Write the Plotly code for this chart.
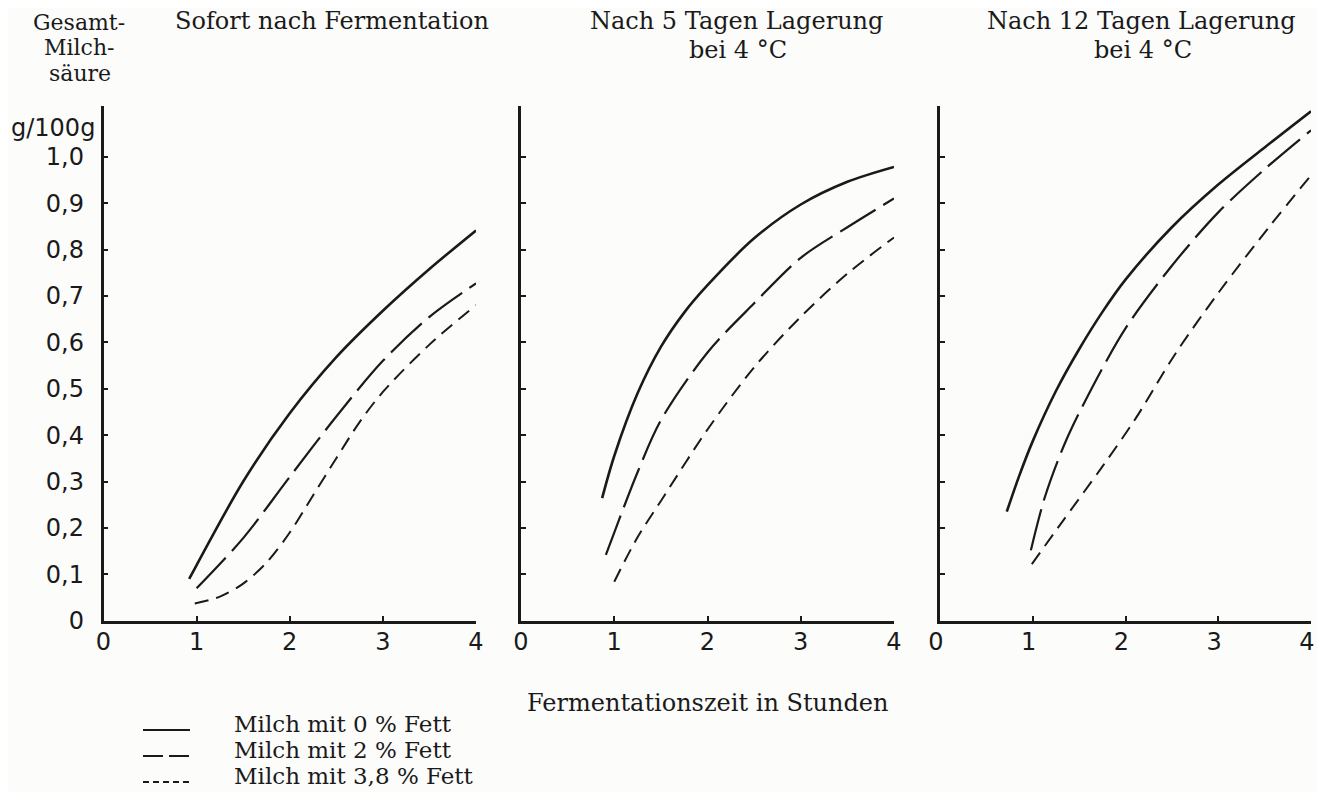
import plotly.graph_objects as go

# ---------------- data ----------------
series_names = ["Milch mit 0 % Fett", "Milch mit 2 % Fett", "Milch mit 3,8 % Fett"]

# Panel 1: sofort nach Fermentation
p1_fett0_x = [0.92, 1.0, 1.5, 2.0, 2.5, 3.0, 3.5, 4.0]
p1_fett0_y = [0.09, 0.12, 0.30, 0.447, 0.568, 0.668, 0.758, 0.841]
p1_fett2_x = [1.0, 1.5, 2.0, 2.5, 3.0, 3.5, 4.0]
p1_fett2_y = [0.07, 0.178, 0.31, 0.44, 0.56, 0.655, 0.727]
p1_fett38_x = [0.98, 1.25, 1.5, 1.75, 2.0, 2.25, 2.5, 2.75, 3.0, 3.5, 4.0]
p1_fett38_y = [0.037, 0.052, 0.08, 0.125, 0.19, 0.27, 0.35, 0.428, 0.493, 0.595, 0.68]

# Panel 2: nach 5 Tagen Lagerung bei 4 °C
p2_fett0_x = [0.87, 1.0, 1.25, 1.5, 1.75, 2.0, 2.5, 3.0, 3.5, 4.0]
p2_fett0_y = [0.264, 0.355, 0.49, 0.59, 0.664, 0.723, 0.824, 0.897, 0.946, 0.978]
p2_fett2_x = [0.91, 1.0, 1.25, 1.5, 2.0, 2.5, 3.0, 3.5, 4.0]
p2_fett2_y = [0.142, 0.19, 0.32, 0.432, 0.578, 0.684, 0.782, 0.848, 0.91]
p2_fett38_x = [1.0, 1.25, 1.5, 2.0, 2.5, 3.0, 3.5, 4.0]
p2_fett38_y = [0.084, 0.18, 0.258, 0.412, 0.546, 0.655, 0.748, 0.826]

# Panel 3: nach 12 Tagen Lagerung bei 4 °C
p3_fett0_x = [0.72, 0.85, 1.0, 1.25, 1.5, 1.75, 2.0, 2.5, 3.0, 3.5, 4.0]
p3_fett0_y = [0.235, 0.31, 0.387, 0.495, 0.585, 0.665, 0.735, 0.848, 0.94, 1.02, 1.098]
p3_fett2_x = [0.98, 1.13, 1.35, 1.6, 2.0, 2.5, 3.0, 3.5, 4.0]
p3_fett2_y = [0.152, 0.266, 0.384, 0.487, 0.63, 0.765, 0.88, 0.973, 1.057]
p3_fett38_x = [0.99, 1.31, 1.75, 2.11, 2.54, 3.01, 3.55, 4.0]
p3_fett38_y = [0.122, 0.211, 0.332, 0.436, 0.576, 0.709, 0.849, 0.96]

x_ticks = [0, 1, 2, 3, 4]
y_tickvals = [0, 0.1, 0.2, 0.3, 0.4, 0.5, 0.6, 0.7, 0.8, 0.9, 1.0]
y_ticktext = ["0", "0,1", "0,2", "0,3", "0,4", "0,5", "0,6", "0,7", "0,8", "0,9", "1,0"]

# ---------------- styling ----------------
OFF = 8                      # default body margin of the html page
W, H = 1325 - 2 * OFF, 800 - 2 * OFF
INK = "#1a1a1a"
BG = "#fcfcfa"
SERIF = "DejaVu Serif, Liberation Serif, serif"
SANS = "DejaVu Sans, Liberation Sans, Arial, sans-serif"
curve_styles = [dict(width=2.6, dash="solid"),
                dict(width=2.2, dash="42px,9px"),
                dict(width=2.0, dash="14px,8px")]
legend_dash = ["solid", "20px,6px", "6px,4px"]


def xp(px):
    return (px - OFF) / W


def yp(py):
    return 1 - (py - OFF) / H


panels = [
    [(p1_fett0_x, p1_fett0_y), (p1_fett2_x, p1_fett2_y), (p1_fett38_x, p1_fett38_y)],
    [(p2_fett0_x, p2_fett0_y), (p2_fett2_x, p2_fett2_y), (p2_fett38_x, p2_fett38_y)],
    [(p3_fett0_x, p3_fett0_y), (p3_fett2_x, p3_fett2_y), (p3_fett38_x, p3_fett38_y)],
]

fig = go.Figure()
for pi, panel in enumerate(panels):
    suffix = "" if pi == 0 else str(pi + 1)
    for si, (xs, ys) in enumerate(panel):
        fig.add_trace(go.Scatter(
            x=xs, y=ys, mode="lines", name=series_names[si],
            line=dict(color=INK, shape="spline", smoothing=0.9, **curve_styles[si]),
            xaxis="x" + suffix, yaxis="y" + suffix,
            showlegend=False, hoverinfo="x+y",
        ))

# axis geometry in page pixels (x=0 .. x=4 ; y=0 at bottom)
x_px = [(103.5, 476.0), (521.0, 894.0), (940.0, 1311.0)]
x_label_shift = [0, 0, -4]
y_bottom_px, y_top_px = 620.7, 105.7
ymax = (y_bottom_px - y_top_px) / 464.0

layout = dict(
    width=W, height=H,
    margin=dict(l=0, r=0, t=0, b=0),
    paper_bgcolor=BG, plot_bgcolor=BG,
    font=dict(family=SANS, size=24, color=INK),
    showlegend=False,
)
for pi in range(3):
    suffix = "" if pi == 0 else str(pi + 1)
    x0, x4 = x_px[pi]
    layout["xaxis" + suffix] = dict(
        domain=[xp(x0), xp(x4)], range=[0, 4.0], anchor="y" + suffix,
        showgrid=False, zeroline=False, showline=True, linecolor=INK, linewidth=2.5,
        ticks="inside", ticklen=5, tickwidth=1.5, tickcolor=INK,
        tickvals=x_ticks, ticktext=[str(v) for v in x_ticks],
        tickfont=dict(family=SANS, size=24, color=INK), ticklabelstandoff=-2,
        ticklabelshift=x_label_shift[pi],
        ticklabeloverflow="allow", automargin=False, fixedrange=True,
    )
    layout["yaxis" + suffix] = dict(
        domain=[yp(y_bottom_px), yp(y_top_px)], range=[0, ymax], anchor="x" + suffix,
        showgrid=False, zeroline=False, showline=True, linecolor=INK, linewidth=2.5,
        ticks="inside", ticklen=5, tickwidth=1.5, tickcolor=INK,
        tickvals=y_tickvals, ticktext=y_ticktext, showticklabels=(pi == 0),
        tickfont=dict(family=SANS, size=24, color=INK), ticklabelstandoff=12,
        ticklabeloverflow="allow", automargin=False, fixedrange=True,
    )
fig.update_layout(**layout)


def ann(text, xpx, ypx, font, size, xanchor="center"):
    fig.add_annotation(text=text, x=xp(xpx), y=yp(ypx), xref="paper", yref="paper",
                       showarrow=False, xanchor=xanchor, yanchor="middle",
                       font=dict(family=font, size=size, color=INK))


# y-axis title block
ann("Gesamt-", 79, 23, SERIF, 22)
ann("Milch-", 79, 48, SERIF, 22)
ann("säure", 80, 73, SERIF, 22)
ann("g/100g", 97, 128, SANS, 24, xanchor="right")

# panel titles
ann("Sofort nach Fermentation", 332, 21, SERIF, 24)
ann("Nach 5 Tagen Lagerung", 736, 21, SERIF, 24)
ann("bei 4 °C", 738, 50, SERIF, 24)
ann("Nach 12 Tagen Lagerung", 1141, 21, SERIF, 24)
ann("bei 4 °C", 1143, 50, SERIF, 24)

# x-axis title
ann("Fermentationszeit in Stunden", 708, 703, SERIF, 24)

# legend (key lines + labels)
legend_rows_y = [724, 750, 776]
for si, name in enumerate(series_names):
    ly = legend_rows_y[si]
    fig.add_shape(type="line", xref="paper", yref="paper",
                  x0=xp(143), x1=xp(190), y0=yp(ly + 6), y1=yp(ly + 6),
                  line=dict(color=INK, width=2.2, dash=legend_dash[si]))
    ann(name, 232, ly, SERIF, 23, xanchor="left")

fig.write_html("out.html")
